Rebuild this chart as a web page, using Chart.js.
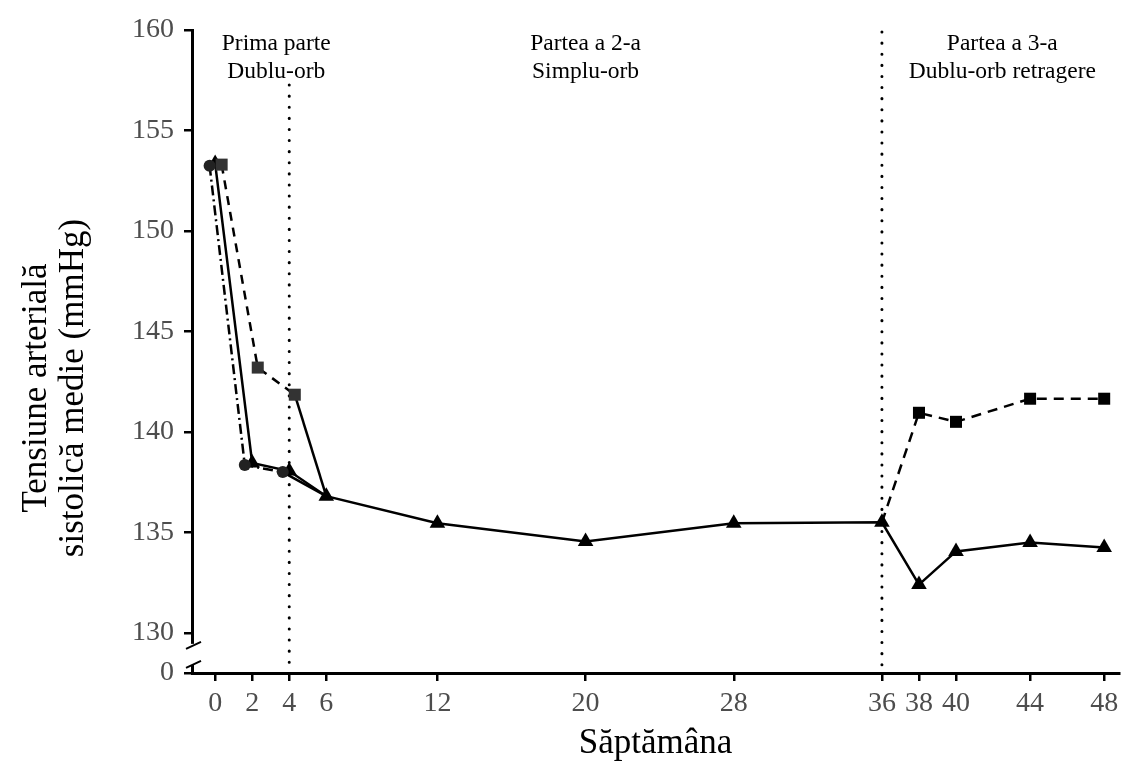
<!DOCTYPE html>
<html>
<head>
  <title>Tensiune arteriala</title>
  <script src="https://cdn.jsdelivr.net/npm/chart.js"></script>
  <style>body { margin: 0; background: #fff; }</style>
</head>
<body>
  <canvas id="myChart" width="1128" height="765"></canvas>
  <script>
    // valori
    const weekTicks = [0, 2, 4, 6, 12, 20, 28, 36, 38, 40, 44, 48];
    const yTicks = [128, 130, 135, 140, 145, 150, 155, 160]; // 128 is shown as "0" (axis break)
    const triWeeks = [0, 2, 4, 6, 12, 20, 28, 36, 38, 40, 44, 48];
    const triVals = [153.35, 138.45, 138.05, 136.8, 135.45, 134.55, 135.45, 135.5, 132.4, 134.05, 134.5, 134.25];
    const circWeeks = [-0.3, 1.6, 3.65, 6];
    const circVals = [153.25, 138.35, 138.0, 136.8];
    const sqWeeks1 = [0.35, 2.3, 4.3, 6];
    const sqVals1 = [153.3, 143.2, 141.85, 136.8];
    const sqWeeks3 = [36, 38, 40, 44, 48];
    const sqVals3 = [135.5, 140.95, 140.5, 141.65, 141.65];
    const phaseWeeks = [4, 36];
    const phaseTitles = [
      ['Prima parte', 'Dublu-orb'],
      ['Partea a 2-a', 'Simplu-orb'],
      ['Partea a 3-a', 'Dublu-orb retragere']
    ];
    const phaseTitleWeeks = [3.3, 20, 42.5];

    const serif = '"Liberation Serif", "Times New Roman", serif';
    const pts = (xs, ys) => xs.map((x, i) => ({ x: x, y: ys[i] }));

    const extras = {
      id: 'extras',
      beforeDatasetsDraw(chart) {
        const c = chart.ctx, xs = chart.scales.x, area = chart.chartArea;
        c.save();
        c.strokeStyle = '#000';
        c.lineWidth = 3;
        c.lineCap = 'round';
        c.setLineDash([0.1, 11]);
        phaseWeeks.forEach((w, i) => {
          const px = xs.getPixelForValue(w);
          c.beginPath();
          c.moveTo(px, i === 0 ? area.top + 55 : area.top + 2);
          c.lineTo(px, area.bottom);
          c.stroke();
        });
        c.restore();
      },
      afterDraw(chart) {
        const c = chart.ctx, xs = chart.scales.x, ys = chart.scales.y, area = chart.chartArea;
        c.save();
        // phase titles
        c.fillStyle = '#000';
        c.font = '23.5px ' + serif;
        c.textAlign = 'center';
        c.textBaseline = 'middle';
        phaseTitles.forEach((lines, i) => {
          const px = xs.getPixelForValue(phaseTitleWeeks[i]);
          c.fillText(lines[0], px, area.top + 14);
          c.fillText(lines[1], px, area.top + 42);
        });
        // y title, two lines
        c.font = '35px ' + serif;
        c.textBaseline = 'alphabetic';
        c.translate(46, 388);
        c.rotate(-Math.PI / 2);
        c.fillText('Tensiune arterială', 0, 0);
        c.fillText('sistolică medie (mmHg)', 0, 37);
        c.restore();
        // axis break
        c.save();
        const ax = area.left;
        const yTop = ys.getPixelForValue(129.45), yBot = ys.getPixelForValue(128.4);
        c.fillStyle = '#fff';
        c.fillRect(ax - 3, yTop, 6, yBot - yTop);
        c.strokeStyle = '#000';
        c.lineWidth = 2;
        c.beginPath();
        c.moveTo(ax - 6, yTop + 5); c.lineTo(ax + 9, yTop - 2);
        c.moveTo(ax - 6, yBot + 3); c.lineTo(ax + 9, yBot - 4);
        c.stroke();
        c.restore();
      }
    };

    const ctx = document.getElementById('myChart').getContext('2d');
    const chart = new Chart(ctx, {
      type: 'line',
      data: {
        datasets: [
          {
            label: 'cerc',
            data: pts(circWeeks, circVals),
            borderColor: '#000',
            borderWidth: 2.5,
            backgroundColor: '#222',
            pointStyle: 'circle',
            pointRadius: [6, 6, 6, 0],
            pointBorderWidth: 0,
            segment: { borderDash: c => c.p0DataIndex < 2 ? [10, 4, 2, 4] : [] }
          },
          {
            label: 'patrat 1',
            data: pts(sqWeeks1, sqVals1),
            borderColor: '#000',
            borderWidth: 2.5,
            backgroundColor: '#333',
            pointStyle: 'rect',
            pointRadius: [8.5, 8.5, 8.5, 0],
            pointBorderWidth: 0,
            segment: { borderDash: c => c.p0DataIndex < 2 ? [9, 7] : [] }
          },
          {
            label: 'patrat 3',
            data: pts(sqWeeks3, sqVals3),
            borderColor: '#000',
            borderWidth: 2.5,
            borderDash: [10, 7],
            backgroundColor: '#000',
            pointStyle: 'rect',
            pointRadius: [0, 8.5, 8.5, 8.5, 8.5],
            pointBorderWidth: 0
          },
          {
            label: 'triunghi',
            data: pts(triWeeks, triVals),
            borderColor: '#000',
            borderWidth: 2.5,
            backgroundColor: '#000',
            pointStyle: 'triangle',
            pointRadius: 9,
            pointBorderWidth: 0
          }
        ]
      },
      options: {
        responsive: false,
        animation: false,
        layout: { padding: { top: 30, right: 1, left: 0, bottom: 0 } },
        plugins: { legend: { display: false }, tooltip: { enabled: false } },
        scales: {
          x: {
            type: 'linear',
            min: -1.25,
            max: 48.8,
            afterBuildTicks: s => { s.ticks = weekTicks.map(v => ({ value: v })); },
            afterFit: s => { s.height = 92; },
            border: { display: true, color: '#000', width: 3 },
            grid: { drawOnChartArea: false, drawTicks: true, tickLength: 8, color: '#000', lineWidth: 2.5 },
            ticks: { color: '#4d4d4d', font: { family: serif, size: 28 }, padding: 6, maxRotation: 0, autoSkip: false },
            title: { display: true, text: 'Săptămâna', color: '#000', font: { family: serif, size: 35 }, padding: { top: 6, bottom: 0 } }
          },
          y: {
            min: 128,
            max: 160,
            afterBuildTicks: s => { s.ticks = yTicks.map(v => ({ value: v })); },
            afterFit: s => { s.width = 192; },
            border: { display: true, color: '#000', width: 3 },
            grid: { drawOnChartArea: false, drawTicks: true, tickLength: 8, color: '#000', lineWidth: 2.5 },
            ticks: {
              color: '#4d4d4d',
              font: { family: serif, size: 28 },
              padding: 10,
              callback: v => v === 128 ? '0' : v
            }
          }
        }
      },
      plugins: [extras]
    });
  </script>
</body>
</html>
